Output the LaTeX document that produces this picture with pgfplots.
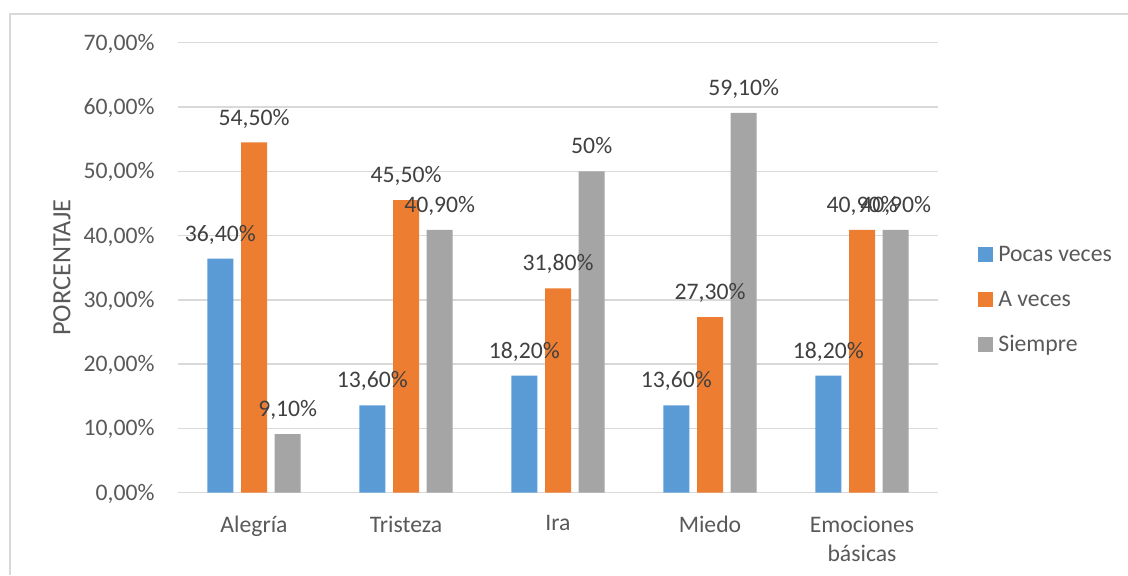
\documentclass[border=0pt]{standalone}
\usepackage{pgfplots}
\pgfplotsset{compat=1.18}
\usepackage{fontspec}
\setmainfont{Carlito}
\definecolor{azul}{HTML}{5B9BD5}
\definecolor{naranja}{HTML}{ED7D31}
\definecolor{gris}{HTML}{A5A5A5}
\definecolor{texto}{HTML}{595959}
\definecolor{etiq}{HTML}{404040}
\definecolor{rejilla}{HTML}{D9D9D9}
\newcommand\fs{\fontsize{11.85}{14.5}\selectfont}

\begin{document}
\begin{tikzpicture}
\useasboundingbox (0,0) rectangle (564pt,287.5pt);
\draw[rejilla, line width=0.75pt] (5pt,0) -- (5pt,280.5pt) -- (564pt,280.5pt);
\begin{axis}[
  at={(89pt,41.15pt)}, anchor=south west,
  scale only axis, width=380pt, height=225pt,
  ymin=0, ymax=70, ytick={0,10,...,70},
  xmin=-0.5, xmax=4.5, xtick={0,1,2,3,4},
  xticklabels={Alegría,Tristeza,Ira,Miedo,{Emociones\\básicas}},
  yticklabel={\pgfmathprintnumber[fixed,fixed zerofill,precision=2,use comma,assume math mode=true]{\tick}\%},
  axis line style={draw=none},
  major tick length=0pt,
  ymajorgrids, grid style={rejilla, line width=0.75pt},
  yticklabel style={font=\fs, text=texto, anchor=base east, inner sep=0pt, xshift=-11.5pt, yshift=-3.75pt},
  xticklabel style={font=\fs, text=texto, align=center, anchor=north, inner sep=0pt, yshift=-11.3pt},
  ylabel={PORCENTAJE},
  ylabel style={font=\fontsize{13.15}{15}\selectfont, text=texto, at={(axis description cs:-0.1526,0.5)}, anchor=center, inner sep=0pt},
  ybar=3.85pt, bar width=13pt,
  point meta=explicit symbolic,
  nodes near coords,
  nodes near coords style={font=\fs, text=etiq, anchor=base, inner sep=0pt, yshift=8.65pt},
  legend cell align=left,
  legend image code/.code={\fill[#1] (0pt,-3.75pt) rectangle (7.5pt,3.75pt);},
  legend style={at={(axis description cs:1.0526,0.4304)}, anchor=west, draw=none, fill=none,
    inner sep=0pt, font=\fs, text=texto, row sep=12pt, nodes={inner sep=0pt},
    /tikz/every odd column/.append style={column sep=2.5pt},
    /tikz/every even column/.append style={text height=9pt, text depth=1.5pt}},
]
\addplot[fill=azul, draw=none] coordinates {
  (0,36.4) [36,40\%]
  (1,13.6) [13,60\%]
  (2,18.2) [18,20\%]
  (3,13.6) [13,60\%]
  (4,18.2) [18,20\%]
};
\addplot[fill=naranja, draw=none] coordinates {
  (0,54.5) [54,50\%]
  (1,45.5) [45,50\%]
  (2,31.8) [31,80\%]
  (3,27.3) [27,30\%]
  (4,40.9) [40,90\%]
};
\addplot[fill=gris, draw=none] coordinates {
  (0,9.1) [9,10\%]
  (1,40.9) [40,90\%]
  (2,50) [50\%]
  (3,59.1) [59,10\%]
  (4,40.9) [40,90\%]
};
\legend{Pocas veces, A veces, Siempre}
\end{axis}
\end{tikzpicture}
\end{document}
